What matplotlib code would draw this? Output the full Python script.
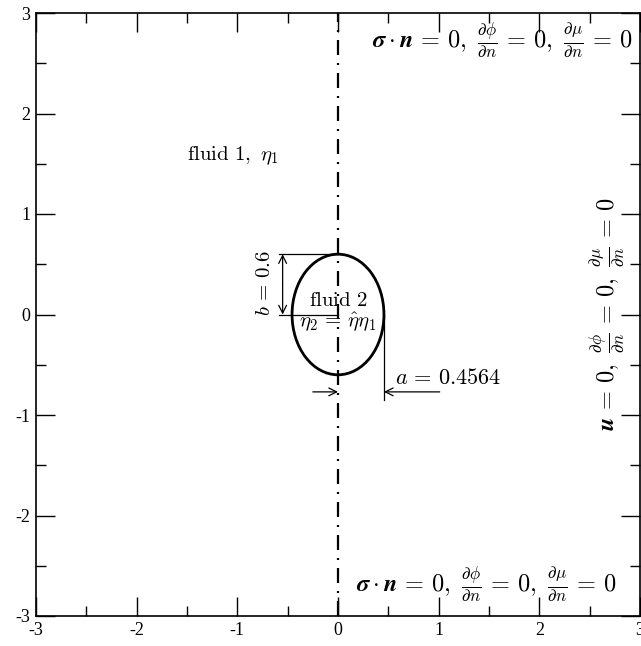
import numpy as np
import matplotlib
matplotlib.use("Agg")
import matplotlib.pyplot as plt
from matplotlib.patches import Ellipse

plt.rcParams['mathtext.fontset'] = 'cm'
plt.rcParams['font.family'] = ['Liberation Serif', 'DejaVu Serif']

# geometry of the drop
semi_a = 0.4564
semi_b = 0.6
x_range = [-3, 3]
y_range = [-3, 3]
tick_vals = [-3, -2, -1, 0, 1, 2, 3]

fig = plt.figure(figsize=(6.41, 6.46), dpi=100)
ax = fig.add_axes([36 / 641, 30 / 646, 604 / 641, 603 / 646])
ax.set_xlim(x_range)
ax.set_ylim(y_range)

# symmetry axis
ax.plot([0, 0], y_range, color='black', lw=1.6, ls=(0, (6.75, 3.6, 0.9, 3.6)))

# drop
ax.add_patch(Ellipse((0, 0), 2 * semi_a, 2 * semi_b, fill=False, lw=2.0, color='black'))

arr = dict(arrowstyle='->', color='black', lw=0.9, shrinkA=0, shrinkB=0, mutation_scale=14)
lw_thin = 0.9

# b dimension
ax.plot([-0.59, 0], [semi_b, semi_b], color='black', lw=lw_thin)
ax.plot([-0.59, 0], [0, 0], color='black', lw=lw_thin)
ax.annotate('', xy=(-0.55, semi_b), xytext=(-0.55, 0.3), arrowprops=arr)
ax.annotate('', xy=(-0.55, 0), xytext=(-0.55, 0.3), arrowprops=arr)
ax.text(-0.72, 0.31, r'$b\,=\,0.6$', rotation=90, ha='center', va='center', fontsize=15)

# a dimension
ax.plot([semi_a, semi_a], [0, -0.85], color='black', lw=lw_thin)
ax.annotate('', xy=(semi_a, -0.77), xytext=(1.01, -0.77), arrowprops=arr)
ax.annotate('', xy=(0, -0.77), xytext=(-0.25, -0.77), arrowprops=arr)
ax.text(0.57, -0.64, r'$a\,=\,0.4564$', ha='left', va='center', fontsize=16)

# labels
ax.text(-1.05, 1.58, r'$\mathrm{fluid\ 1,}\ \eta_1$', ha='center', va='center', fontsize=15)
ax.text(0, 0.13, r'$\mathrm{fluid\ 2}$', ha='center', va='center', fontsize=15)
ax.text(0, -0.08, r'$\eta_2\,=\,\hat{\eta}\eta_1$', ha='center', va='center', fontsize=15)

bc_sn = (r'$\mathbfit{\sigma}\cdot\mathbfit{n}\,=\,0,\ \frac{\partial\phi}{\partial n}\,=\,0,'
         r'\ \frac{\partial\mu}{\partial n}\,=\,0$')
bc_u = (r'$\mathbfit{u}\,=\,0,\ \frac{\partial\phi}{\partial n}\,=\,0,'
        r'\ \frac{\partial\mu}{\partial n}\,=\,0$')
ax.text(2.93, 2.79, bc_sn, ha='right', va='center_baseline', fontsize=17.5)
ax.text(2.77, -2.63, bc_sn, ha='right', va='center_baseline', fontsize=17.5)
ax.text(2.68, 0.0, bc_u, rotation=90, ha='center', va='center', fontsize=17.5)

# ticks
ax.set_xticks(tick_vals)
ax.set_yticks(tick_vals)
ax.set_xticklabels([str(t) for t in tick_vals])
ax.set_yticklabels([str(t) for t in tick_vals])
ax.set_xticks(np.arange(-2.5, 3, 1.0), minor=True)
ax.set_yticks(np.arange(-2.5, 3, 1.0), minor=True)
ax.tick_params(which='both', direction='in', top=True, right=True, labelsize=13, width=1)
ax.tick_params(which='major', length=14, pad=4)
ax.tick_params(which='minor', length=7)
for s in ax.spines.values():
    s.set_linewidth(1.2)

fig.savefig('out.png', dpi=100)
